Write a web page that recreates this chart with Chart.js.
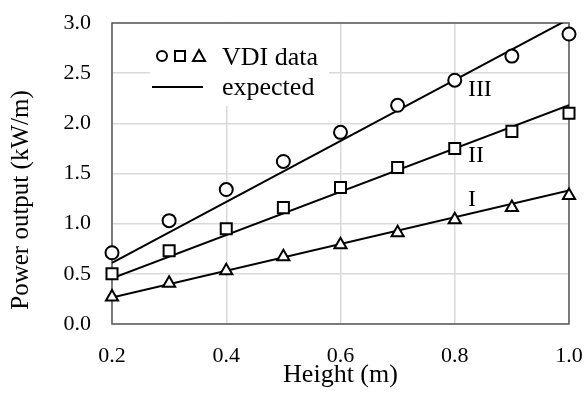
<!DOCTYPE html>
<html>
<head>
<meta charset="utf-8">
<script src="https://cdn.jsdelivr.net/npm/chart.js@4"></script>
<style>
    html, body { margin: 0; padding: 0; background: #fff; }
    #wrap { width: 587px; height: 397px; }
</style>
</head>
<body>
<div id="wrap"><canvas id="powerChart" width="587" height="397"></canvas></div>
<script>
const heights = [0.2, 0.3, 0.4, 0.5, 0.6, 0.7, 0.8, 0.9, 1.0];
const vdiIII = [0.71, 1.03, 1.34, 1.62, 1.91, 2.18, 2.43, 2.67, 2.89];
const vdiII = [0.50, 0.73, 0.95, 1.16, 1.36, 1.56, 1.75, 1.92, 2.10];
const vdiI = [0.27, 0.405, 0.53, 0.67, 0.79, 0.91, 1.04, 1.16, 1.28];

// straight "expected" lines, read at both ends of the axis
const lineX = [0.2, 1.0];
const expectedIII = [0.61, 3.04];
const expectedII = [0.455, 2.18];
const expectedI = [0.265, 1.33];

const curveNames = ["III", "II", "I"];
const curveLabelX = [0.823, 0.823, 0.823];
const curveLabelY = [2.34, 1.68, 1.24];

const xTicks = [0.2, 0.4, 0.6, 0.8, 1.0];
const yTicks = [0.0, 0.5, 1.0, 1.5, 2.0, 2.5, 3.0];

const SERIF = '"Liberation Serif", "Times New Roman", serif';

function toPoints(xs, ys) {
    return xs.map((x, i) => ({ x: x, y: ys[i] }));
}

function vdiSet(values, shape, radius) {
    return {
        type: "scatter",
        data: toPoints(heights, values),
        pointStyle: shape,
        pointRadius: radius,
        pointBorderWidth: 2,
        pointBorderColor: "#000",
        pointBackgroundColor: "#fff",
        showLine: false,
        clip: false,
        order: 0,
    };
}

function expectedSet(values) {
    return {
        type: "line",
        data: toPoints(lineX, values),
        borderColor: "#000",
        borderWidth: 2,
        pointRadius: 0,
        fill: false,
        tension: 0,
        clip: 0,
        order: 1,
    };
}

// keep tick labels from pushing the plot area around
function noOverhang(scale) {
    scale.paddingTop = 0;
    scale.paddingBottom = 0;
    scale.paddingLeft = 0;
    scale.paddingRight = 0;
}

// white legend box, frame, y title and the I / II / III captions
const frameAndLegend = {
    id: "frameAndLegend",
    beforeDatasetsDraw(chart) {
        const { ctx, chartArea: a } = chart;
        ctx.save();

        ctx.fillStyle = "#fff";
        ctx.fillRect(a.left + 38, a.top + 1, 179, 82);

        ctx.strokeStyle = "#595959";
        ctx.lineWidth = 1.5;
        ctx.strokeRect(a.left, a.top, a.right - a.left, a.bottom - a.top);

        // legend symbols
        const sy = a.top + 33;
        ctx.strokeStyle = "#000";
        ctx.lineWidth = 2;
        ctx.beginPath();
        ctx.arc(a.left + 50, sy, 5, 0, Math.PI * 2);
        ctx.stroke();
        ctx.strokeRect(a.left + 63, sy - 5, 10, 10);
        ctx.beginPath();
        ctx.moveTo(a.left + 87, sy - 6);
        ctx.lineTo(a.left + 93, sy + 5);
        ctx.lineTo(a.left + 81, sy + 5);
        ctx.closePath();
        ctx.stroke();

        ctx.beginPath();
        ctx.moveTo(a.left + 40, a.top + 64);
        ctx.lineTo(a.left + 91, a.top + 64);
        ctx.stroke();

        ctx.fillStyle = "#000";
        ctx.font = "26px " + SERIF;
        ctx.textAlign = "left";
        ctx.textBaseline = "alphabetic";
        ctx.fillText("VDI data", a.left + 110, a.top + 42);
        ctx.fillText("expected", a.left + 110, a.top + 72);

        // y axis title sits a bit below the middle of the axis
        ctx.translate(21, a.top + 177);
        ctx.rotate(-Math.PI / 2);
        ctx.font = "25px " + SERIF;
        ctx.textAlign = "center";
        ctx.textBaseline = "middle";
        ctx.fillText("Power output (kW/m)", 0, 0);
        ctx.restore();
    },
    afterDatasetsDraw(chart) {
        const { ctx, scales } = chart;
        ctx.save();
        ctx.fillStyle = "#000";
        ctx.font = "24px " + SERIF;
        ctx.textAlign = "left";
        ctx.textBaseline = "middle";
        curveNames.forEach((name, i) => {
            ctx.fillText(name, scales.x.getPixelForValue(curveLabelX[i]), scales.y.getPixelForValue(curveLabelY[i]));
        });
        ctx.restore();
    },
};

const ctx = document.getElementById("powerChart").getContext("2d");

new Chart(ctx, {
    data: {
        datasets: [
            vdiSet(vdiIII, "circle", 6.5),
            vdiSet(vdiII, "rect", 7.8),
            vdiSet(vdiI, "triangle", 7),
            expectedSet(expectedIII),
            expectedSet(expectedII),
            expectedSet(expectedI),
        ],
    },
    options: {
        responsive: false,
        animation: false,
        layout: { padding: { top: 23, right: 18, left: 0, bottom: 0 } },
        plugins: {
            legend: { display: false },
            tooltip: { enabled: false },
        },
        scales: {
            x: {
                type: "linear",
                min: 0.2,
                max: 1.0,
                afterBuildTicks(scale) {
                    scale.ticks = xTicks.map((v) => ({ value: v }));
                },
                afterFit(scale) {
                    scale.height = 73;
                    noOverhang(scale);
                },
                ticks: {
                    color: "#000",
                    padding: 19,
                    font: { family: SERIF, size: 22 },
                    callback: (v) => Number(v).toFixed(1),
                },
                grid: { color: "#d9d9d9", lineWidth: 1.5, drawTicks: false },
                border: { display: false },
                title: {
                    display: true,
                    text: "Height (m)",
                    color: "#000",
                    font: { family: SERIF, size: 26 },
                    padding: { top: 0, bottom: 6 },
                },
            },
            y: {
                type: "linear",
                min: 0,
                max: 3.0,
                afterBuildTicks(scale) {
                    scale.ticks = yTicks.map((v) => ({ value: v }));
                },
                afterFit(scale) {
                    scale.width = 112;
                    noOverhang(scale);
                },
                ticks: {
                    color: "#000",
                    padding: 21,
                    font: { family: SERIF, size: 22 },
                    callback: (v) => Number(v).toFixed(1),
                },
                grid: { color: "#d9d9d9", lineWidth: 1.5, drawTicks: false },
                border: { display: false },
                title: { display: false },
            },
        },
    },
    plugins: [frameAndLegend],
});
</script>
</body>
</html>
